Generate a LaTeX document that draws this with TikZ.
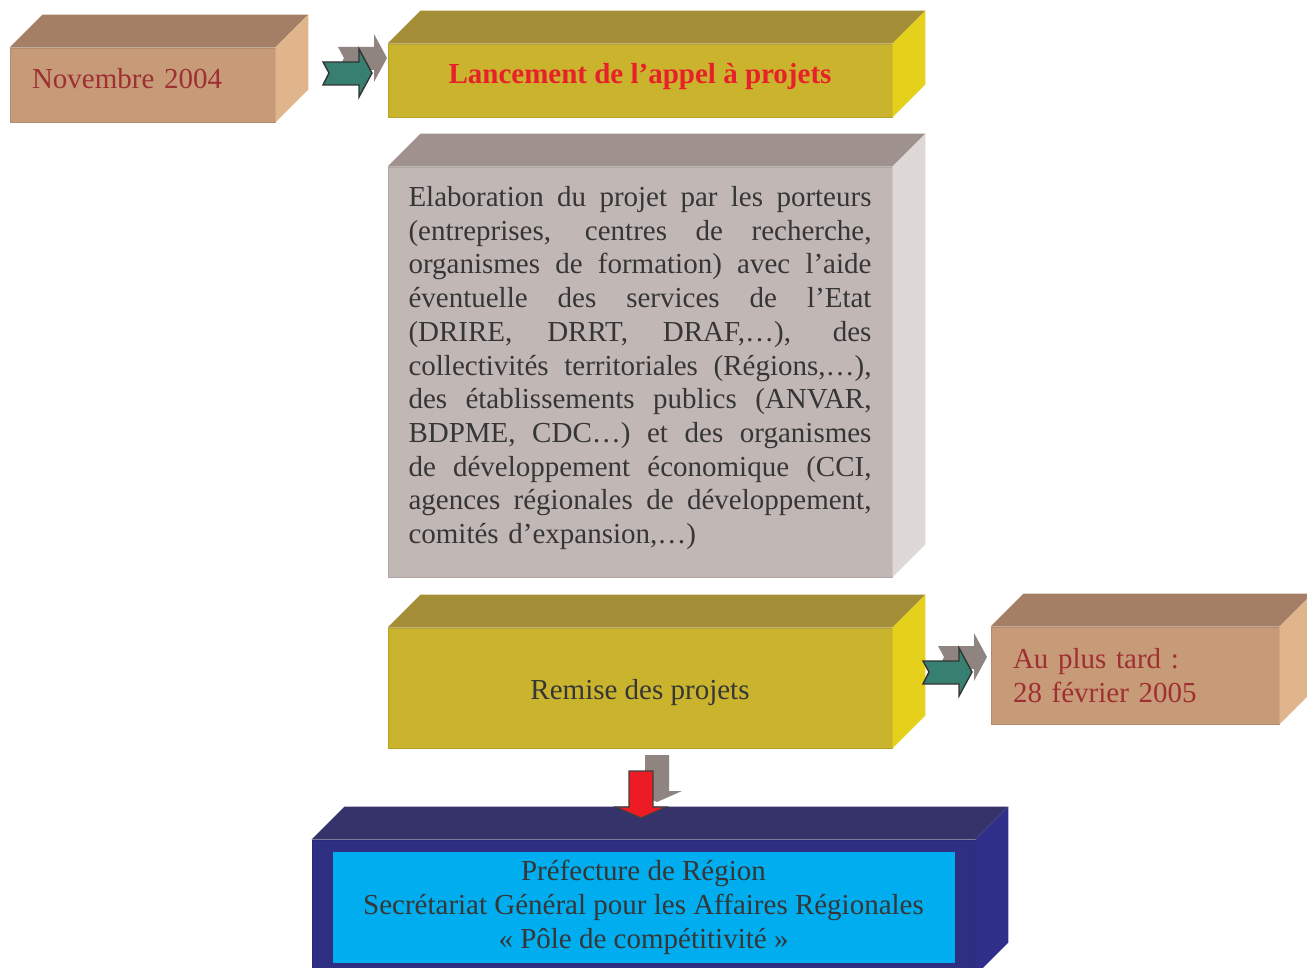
\documentclass[tikz,border=0pt]{standalone}
\usepackage{fontspec}
\setmainfont{Liberation Serif}
\usepackage{tikz}
\usetikzlibrary{positioning}

\definecolor{tanfront}{HTML}{C89B78}
\definecolor{tantop}{HTML}{A47F66}
\definecolor{tanside}{HTML}{E0B58B}
\definecolor{tantext}{HTML}{9E2F33}
\definecolor{olivefront}{HTML}{CAB42D}
\definecolor{olivetop}{HTML}{A48F38}
\definecolor{oliveside}{HTML}{E5D11B}
\definecolor{greyfront}{HTML}{C1B8B5}
\definecolor{greytop}{HTML}{9E918E}
\definecolor{greyside}{HTML}{DED9D6}
\definecolor{navyfront}{HTML}{2E2F82}
\definecolor{navytop}{HTML}{35336A}
\definecolor{navyside}{HTML}{2F2F8A}
\definecolor{prefcyan}{HTML}{00AEEF}
\definecolor{darktext}{HTML}{363636}
\definecolor{titlered}{HTML}{E8202A}
\definecolor{arrowgreen}{HTML}{367F71}
\definecolor{arrowgrey}{HTML}{8F8480}
\definecolor{arrowred}{HTML}{ED1C24}

\tikzset{
  every node/.style={font={\fontsize{29}{33.7}\selectfont}, inner sep=0pt},
  face/.style={fill=#1, draw=#1!90!black, line width=0.8pt},
  shadowarrow/.style={fill=arrowgrey},
  greenarrow/.style={fill=arrowgreen, draw=black!80, line width=1.4pt, line join=miter},
  redarrow/.style={fill=arrowred, draw=black!75, line width=1.2pt, line join=miter},
  rightblock/.pic={
    \fill[shadowarrow, shift={(15,-15)}] (0,-11) -- (6,0) -- (0,12) -- (36,12) -- (36,24) -- (49,0) -- (36,-24) -- (36,-11) -- cycle;
    \filldraw[greenarrow] (0,-11) -- (6,0) -- (0,12) -- (36,12) -- (36,24) -- (49,0) -- (36,-24) -- (36,-11) -- cycle;
  },
  downblock/.pic={
    \fill[shadowarrow, shift={(16,-16)}] (-12,0) -- (12,0) -- (12,36) -- (25,36) -- (0,47) -- (-25,36) -- (-12,36) -- cycle;
    \filldraw[redarrow] (-12,0) -- (12,0) -- (12,36) -- (25,36) -- (0,47) -- (-25,36) -- (-12,36) -- cycle;
  }
}

% top and side faces behind a front node: node, top colour, side colour, depth
\newcommand{\prism}[4]{%
  \fill[#2] (#1.north west) -- ++(#4,-#4) -- ([shift={(#4,-#4)}]#1.north east) -- (#1.north east) -- cycle;
  \fill[#3] (#1.north east) -- ++(#4,-#4) -- ([shift={(#4,-#4)}]#1.south east) -- (#1.south east) -- cycle;
}
\newcommand{\jline}[1]{\makebox[463pt][s]{\spaceskip=0pt\xspaceskip=0pt #1}}

\begin{document}
\begin{tikzpicture}[x=1pt,y=-1pt]
\useasboundingbox (0,0) rectangle (1307,968);
\clip (0,0) rectangle (1307,968);

\node[face=tanfront, text=tantext, text width=221pt, inner xsep=22pt, minimum height=74pt, text depth=14pt, align=left] (nov) at (142.5,85) {Novembre 2004};
\node[face=olivefront, text=titlered, font={\fontsize{29}{33.7}\selectfont\bfseries}, minimum width=504pt, minimum height=73pt, text depth=15pt] (lanc) at (640,80.5) {Lancement de l’appel à projets};
\node[face=greyfront, text=darktext, text width=463pt, inner xsep=20.5pt, minimum height=410pt, align=left] (elab) at (640,372) {%
\jline{Elaboration du projet par les porteurs}\\
\jline{(entreprises, centres de recherche,}\\
\jline{organismes de formation) avec l’aide}\\
\jline{éventuelle des services de l’Etat}\\
\jline{(DRIRE, DRRT, DRAF,…), des}\\
\jline{collectivités territoriales (Régions,…),}\\
\jline{des établissements publics (ANVAR,}\\
\jline{BDPME, CDC…) et des organismes}\\
\jline{de développement économique (CCI,}\\
\jline{agences régionales de développement,}\\
comités d’expansion,…)\rule[-14pt]{0pt}{14pt}};
\node[face=olivefront, text=darktext, minimum width=504pt, minimum height=120pt, text height=30pt] (remise) at (640,688) {Remise des projets};
\node[face=tanfront, text=tantext, text width=244pt, inner xsep=22pt, minimum height=97pt, align=left] (tard) at (1135,675.5) {Au plus tard :\\28 février 2005};
\node[face=navyfront, minimum width=663pt, minimum height=135pt] (navy) at (643.5,907.5) {};
\node[fill=prefcyan, text=darktext, minimum width=622pt, minimum height=111pt, align=center] (pref) at (navy.center) {Préfecture de Région\\Secrétariat Général pour les Affaires Régionales\\« Pôle de compétitivité »};

\prism{nov}{tantop}{tanside}{33}
\prism{lanc}{olivetop}{oliveside}{33}
\prism{elab}{greytop}{greyside}{33}
\prism{remise}{olivetop}{oliveside}{33}
\prism{tard}{tantop}{tanside}{33}
\prism{navy}{navytop}{navyside}{33}

\pic at (323,73) {rightblock};
\pic at (923,672) {rightblock};
\pic at (641,771) {downblock};
\end{tikzpicture}
\end{document}
